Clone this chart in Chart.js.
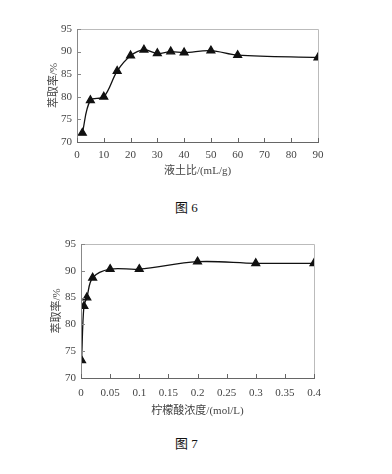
<!DOCTYPE html>
<html>
<head>
<meta charset="utf-8">
<script src="https://cdn.jsdelivr.net/npm/chart.js@4.4.1/dist/chart.umd.min.js"></script>
<style>
body { margin: 0; background: #fff; width: 392px; height: 474px; position: relative; overflow: hidden; }
.box { position: absolute; left: 0; width: 392px; }
.cap { position: absolute; font-family: 'Liberation Serif', 'Noto Sans CJK SC', serif; font-size: 13px; color: #111; }
</style>
</head>
<body>
<div class="box" style="top:0;height:180px"><canvas id="chart6"></canvas></div>
<div class="cap" style="left:175px;top:197px">图 6</div>
<div class="box" style="top:230px;height:190px"><canvas id="chart7"></canvas></div>
<div class="cap" style="left:175px;top:433px">图 7</div>
<script>
// fig 6: liquid/solid ratio vs extraction rate
const ratioX = [2, 5, 10, 15, 20, 25, 30, 35, 40, 50, 60, 90];
const ratioRate = [72.0, 79.2, 80.0, 85.7, 89.1, 90.4, 89.6, 90.0, 89.8, 90.2, 89.2, 88.7];

// fig 7: citric acid concentration vs extraction rate
const acidX = [0.001, 0.005, 0.01, 0.02, 0.05, 0.1, 0.2, 0.3, 0.4];
const acidRate = [73.3, 83.4, 85.0, 88.7, 90.3, 90.3, 91.7, 91.4, 91.4];

const yTicks = [70, 75, 80, 85, 90, 95];
const acidTicks = ['0', '0.05', '0.1', '0.15', '0.2', '0.25', '0.3', '0.35', '0.4'];

const serif = "'Liberation Serif', 'Noto Sans CJK SC', serif";

// excel-like frame with inner tick marks
const frame = {
    id: 'frame',
    afterDraw(chart) {
        const ctx = chart.ctx, a = chart.chartArea;
        const xs = chart.scales.x, ys = chart.scales.y;
        ctx.save();
        ctx.lineWidth = 1;
        ctx.strokeStyle = '#bbb';
        ctx.beginPath();
        ctx.moveTo(a.left, a.top + 0.5); ctx.lineTo(a.right + 0.5, a.top + 0.5); ctx.lineTo(a.right + 0.5, a.bottom);
        ctx.stroke();
        ctx.strokeStyle = '#888';
        ctx.beginPath();
        ctx.moveTo(a.left + 0.5, a.top); ctx.lineTo(a.left + 0.5, a.bottom);
        ys.ticks.forEach(t => {
            const y = Math.round(ys.getPixelForValue(t.value)) + 0.5;
            ctx.moveTo(a.left, y); ctx.lineTo(a.left + 4, y);
        });
        ctx.stroke();
        ctx.strokeStyle = '#666';
        ctx.beginPath();
        ctx.moveTo(a.left, a.bottom + 0.5); ctx.lineTo(a.right + 1, a.bottom + 0.5);
        xs.ticks.forEach(t => {
            const x = Math.round(xs.getPixelForValue(t.value)) + 0.5;
            ctx.moveTo(x, a.bottom); ctx.lineTo(x, a.bottom - 4);
        });
        ctx.stroke();
        ctx.restore();
    }
};

function makeChart(id, xs, ys, xMax, xStep, xTitle, padLeft, left, right, top, bottom, tickPad, xFmt) {
    const ctx = document.getElementById(id).getContext('2d');
    return new Chart(ctx, {
        type: 'line',
        data: {
            datasets: [{
                data: xs.map((x, i) => ({ x: x, y: ys[i] })),
                borderColor: '#111',
                backgroundColor: '#111',
                borderWidth: 1.3,
                pointStyle: 'triangle',
                pointRadius: 4.5,
                tension: 0.35,
                fill: false
            }]
        },
        options: {
            responsive: true,
            maintainAspectRatio: false,
            animation: false,
            layout: { padding: { top: top, right: right, left: padLeft, bottom: 0 } },
            plugins: { legend: { display: false }, tooltip: { enabled: false } },
            scales: {
                x: {
                    type: 'linear',
                    min: 0,
                    max: xMax,
                    grid: { display: false, drawTicks: false },
                    border: { display: false },
                    afterBuildTicks: s => { s.ticks = []; for (let v = 0; v <= xMax + 1e-9; v += xStep) s.ticks.push({ value: +v.toFixed(3) }); },
                    ticks: {
                        autoSkip: false,
                        maxRotation: 0,
                        padding: tickPad,
                        color: '#444',
                        font: { family: serif, size: 11 },
                        callback: xFmt
                    },
                    title: { display: true, text: xTitle, color: '#444', font: { family: serif, size: 11 }, padding: { top: 2, bottom: 2 } },
                    afterFit: s => { s.height = bottom; }
                },
                y: {
                    min: 70,
                    max: 95,
                    grid: { display: false, drawTicks: false },
                    border: { display: false },
                    afterBuildTicks: s => { s.ticks = yTicks.map(v => ({ value: v })); },
                    ticks: { padding: 5, color: '#444', font: { family: serif, size: 11 } },
                    title: { display: true, text: '萃取率/%', color: '#444', font: { family: serif, size: 11 }, padding: { top: 0, bottom: 0 } },
                    afterFit: s => { s.width = left; }
                }
            }
        },
        plugins: [frame]
    });
}

makeChart('chart6', ratioX, ratioRate, 90, 10, '液土比/(mL/g)', 48, 29, 74, 29, 38, 7, v => v);
makeChart('chart7', acidX, acidRate, 0.4, 0.05, '柠檬酸浓度/(mol/L)', 51, 30, 78, 14, 42, 9,
    (v, i) => acidTicks[i]);
</script>
</body>
</html>
